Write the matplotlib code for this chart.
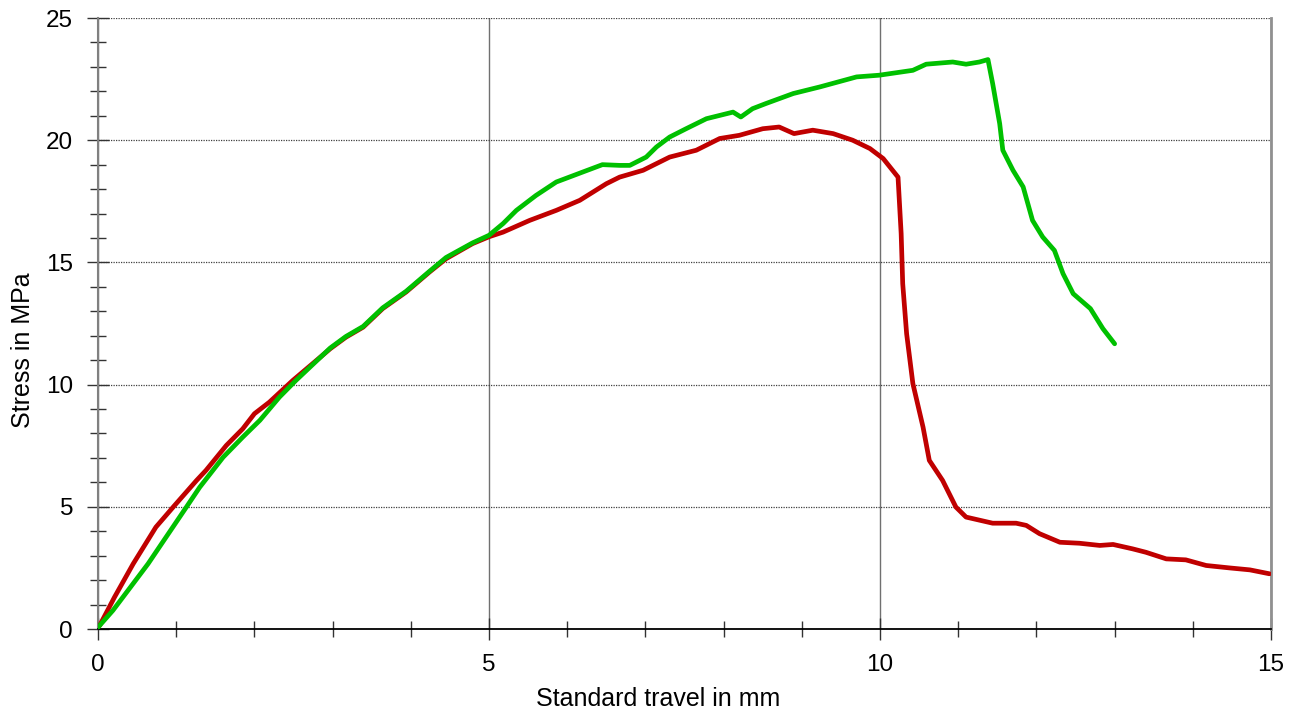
import matplotlib.pyplot as plt
from matplotlib.ticker import MultipleLocator

plt.rcParams['font.family'] = ['Liberation Sans', 'DejaVu Sans']

# red specimen: travel (mm), stress (MPa)
red_x = [0.0, 0.02, 0.21, 0.45, 0.74, 0.98, 1.26, 1.38, 1.64, 1.85, 2.0, 2.19, 2.49,
         2.97, 3.17, 3.39, 3.64, 3.94, 4.24, 4.45, 4.79, 5.0, 5.18, 5.52, 5.86, 6.16,
         6.5, 6.67, 6.97, 7.31, 7.65, 7.95, 8.2, 8.5, 8.71, 8.9, 9.14, 9.4, 9.65,
         9.87, 10.04, 10.23, 10.27, 10.29, 10.34, 10.42, 10.55, 10.63, 10.8, 10.97,
         11.1, 11.44, 11.74, 11.87, 12.04, 12.3, 12.55, 12.81, 12.98, 13.23, 13.4,
         13.66, 13.91, 14.17, 14.47, 14.73, 14.98]
red_y = [0.1, 0.14, 1.3, 2.67, 4.17, 5.06, 6.08, 6.49, 7.51, 8.19, 8.81, 9.28, 10.17,
         11.47, 11.94, 12.35, 13.11, 13.79, 14.61, 15.15, 15.77, 16.05, 16.24, 16.72,
         17.13, 17.54, 18.22, 18.49, 18.77, 19.31, 19.59, 20.07, 20.2, 20.47, 20.54,
         20.27, 20.41, 20.27, 20.0, 19.66, 19.25, 18.49, 16.18, 14.13, 12.08, 10.04,
         8.26, 6.9, 6.08, 4.99, 4.58, 4.33, 4.33, 4.24, 3.9, 3.55, 3.51, 3.42, 3.46,
         3.28, 3.14, 2.87, 2.83, 2.6, 2.5, 2.42, 2.26]

# green specimen
green_x = [0.0, 0.19, 0.4, 0.64, 0.87, 1.13, 1.3, 1.6, 1.85, 2.07, 2.32, 2.53, 2.97,
           3.17, 3.39, 3.64, 3.94, 4.24, 4.45, 4.79, 5.0, 5.18, 5.35, 5.6, 5.86, 6.2,
           6.45, 6.67, 6.8, 7.01, 7.14, 7.31, 7.52, 7.78, 8.12, 8.22, 8.37, 8.54,
           8.89, 9.23, 9.7, 9.99, 10.42, 10.59, 10.93, 11.1, 11.27, 11.38, 11.44,
           11.53, 11.57, 11.7, 11.83, 11.95, 12.08, 12.23, 12.34, 12.47, 12.69,
           12.85, 13.0]
green_y = [0.07, 0.76, 1.65, 2.67, 3.76, 4.99, 5.8, 7.03, 7.85, 8.54, 9.49, 10.17,
           11.5, 11.97, 12.38, 13.14, 13.82, 14.64, 15.2, 15.8, 16.11, 16.59, 17.13,
           17.74, 18.29, 18.7, 19.0, 18.97, 18.97, 19.31, 19.72, 20.13, 20.47, 20.88,
           21.15, 20.95, 21.29, 21.5, 21.91, 22.18, 22.59, 22.66, 22.86, 23.11, 23.2,
           23.11, 23.2, 23.3, 22.32, 20.68, 19.59, 18.77, 18.09, 16.72, 16.04, 15.49,
           14.54, 13.72, 13.11, 12.29, 11.67]

fig = plt.figure(figsize=(12.95, 7.09), dpi=100)
ax = fig.add_axes([0.0757, 0.1128, 0.9058, 0.8618])

ax.plot(red_x, red_y, color='#C00000', lw=3.4, solid_capstyle='round', zorder=3)
ax.plot(green_x, green_y, color='#00C000', lw=3.4, solid_capstyle='round', zorder=4)

ax.set_xlim(0, 15)
ax.set_ylim(0, 25)
ax.xaxis.set_major_locator(MultipleLocator(5))
ax.xaxis.set_minor_locator(MultipleLocator(1))
ax.yaxis.set_major_locator(MultipleLocator(5))
ax.yaxis.set_minor_locator(MultipleLocator(1))

ax.grid(True, which='major', axis='y', color='#404040', lw=0.9, ls=(0, (1, 1)))
ax.grid(True, which='major', axis='x', color='#707070', lw=1.0)

ax.tick_params(which='both', direction='inout', labelsize=17.5, color='#333333')
ax.tick_params(which='major', length=16, width=1)
ax.tick_params(which='minor', length=11, width=1)
ax.tick_params(axis='x', pad=10)
ax.tick_params(axis='y', pad=10)

ax.spines['left'].set_color('#808080')
ax.spines['left'].set_linewidth(1.5)
ax.spines['right'].set_color('#909090')
ax.spines['right'].set_linewidth(2)
ax.spines['top'].set_visible(False)
ax.spines['bottom'].set_color('black')
ax.spines['bottom'].set_linewidth(1.3)

ax.set_xlabel('Standard travel in mm', fontsize=18, labelpad=8)
ax.set_ylabel('Stress in MPa', fontsize=18, labelpad=8)
# labels in the reference sit off-centre
ax.xaxis.label.set_x(0.4774)
ax.yaxis.label.set_y(0.4566)

fig.savefig('out.png', dpi=100)
